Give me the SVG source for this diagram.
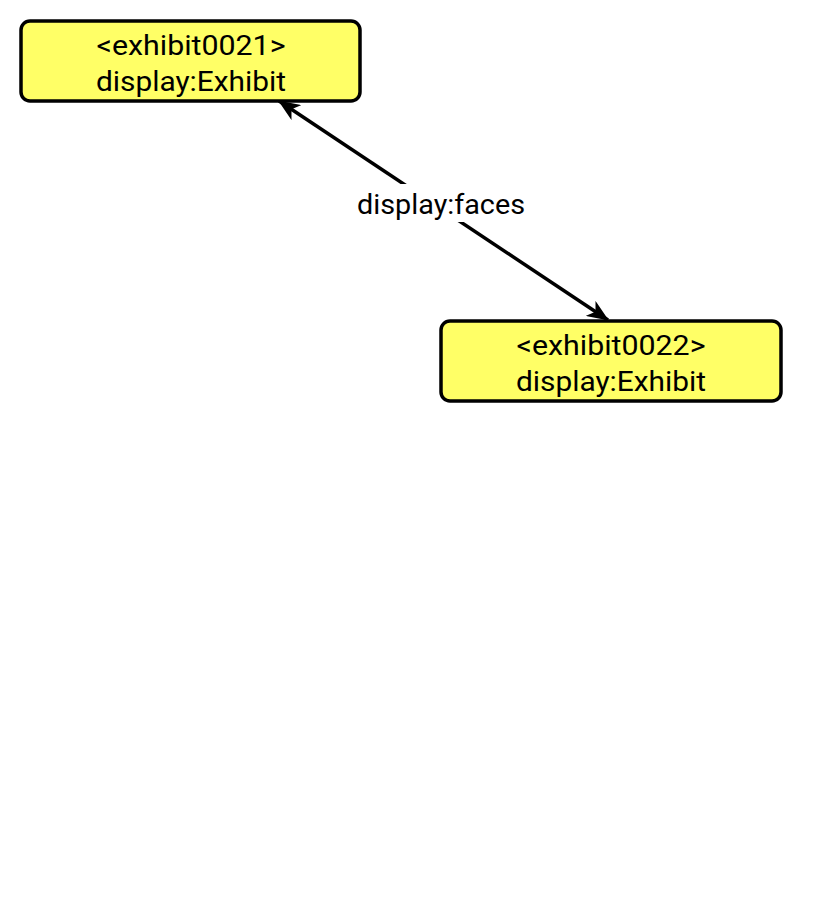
<svg xmlns="http://www.w3.org/2000/svg" width="815" height="905" viewBox="0 0 815 905">
<style>
.node rect{fill:#ffff66;stroke:#000;stroke-width:3.5}
text{font-family:"Roboto","Liberation Sans",sans-serif;font-size:28px;fill:#000;text-anchor:middle}
.edge{stroke:#000;stroke-width:3.5;fill:none}
</style>
<defs>
<marker id="arr" viewBox="0 0 22 18" refX="21" refY="9" markerWidth="22" markerHeight="18" markerUnits="userSpaceOnUse" orient="auto-start-reverse">
<path d="M0,0 L22,9 L0,18 L6,9 Z" fill="#000"/>
</marker>
</defs>
<rect width="815" height="905" fill="#fff"/>
<g id="connectors">
<line class="edge" x1="279" y1="101" x2="608" y2="320" marker-start="url(#arr)" marker-end="url(#arr)"/>
<rect x="354" y="184" width="174" height="38" fill="#fff"/>
<text x="441" y="214" textLength="168" lengthAdjust="spacingAndGlyphs">display:faces</text>
</g>
<g id="exhibit0021" class="node">
<rect x="21" y="21" width="339" height="80" rx="9"/>
<text x="191" y="55" textLength="189" lengthAdjust="spacingAndGlyphs">&lt;exhibit0021&gt;</text>
<text x="191" y="91" textLength="190" lengthAdjust="spacingAndGlyphs">display:Exhibit</text>
</g>
<g id="exhibit0022" class="node">
<rect x="441" y="321" width="340" height="80" rx="9"/>
<text x="611" y="355" textLength="189" lengthAdjust="spacingAndGlyphs">&lt;exhibit0022&gt;</text>
<text x="611" y="391" textLength="190" lengthAdjust="spacingAndGlyphs">display:Exhibit</text>
</g>
</svg>
